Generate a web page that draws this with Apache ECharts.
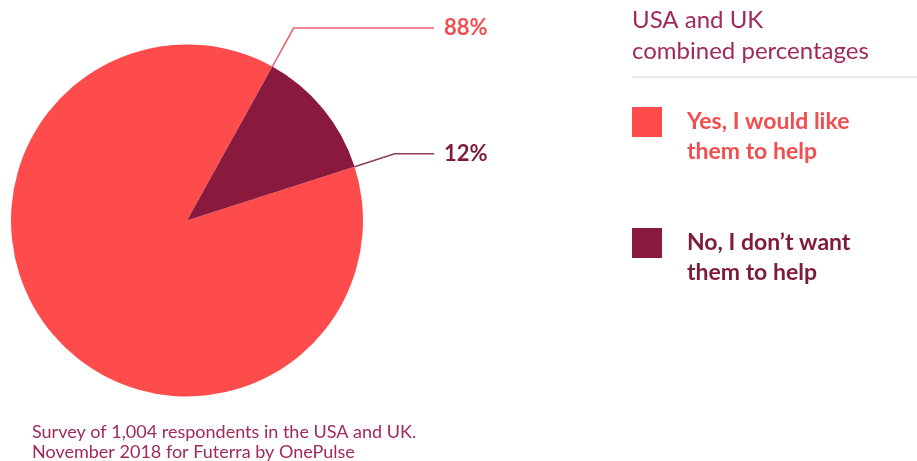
<!DOCTYPE html>
<html>
<head>
<meta charset="utf-8">
<script src="https://cdn.jsdelivr.net/npm/echarts@6/dist/echarts.min.js"></script>
<style>
  html, body { margin: 0; padding: 0; background: #ffffff; }
  #chart { width: 917px; height: 461px; }
</style>
</head>
<body>
<div id="chart"></div>
<script>
// Survey answers (percent of respondents)
const categories = ['Yes, I would like them to help', "No, I don\u2019t want them to help"];
const legendLines = [['Yes, I would like', 'them to help'], ["No, I don\u2019t want", 'them to help']];
const values = [88, 12];

const sliceColors = ['#fe4b4c', '#8a1a3d'];
const labelColors = ['#f24d4f', '#7e1a3c'];
const leaderColors = ['#e9606c', '#8d3b5e'];
const textColor = '#a02b57';

const center = [187, 220.5];
const radius = 176;
const startAngle = 17.8;
const legLength = [44, 42];
const lineEndX = 434;
const labelX = 444;

const total = values.reduce((a, b) => a + b, 0);

// Leader line starts at the trailing edge of each slice and runs outward
function leaderPoints(i) {
  let acc = 0;
  for (let k = 0; k <= i; k++) acc += values[k];
  const a = (startAngle - acc / total * 360) * Math.PI / 180;
  const dx = Math.cos(a), dy = -Math.sin(a);
  const p0 = [center[0] + radius * dx, center[1] + radius * dy];
  const p1 = [p0[0] + legLength[i] * dx, p0[1] + legLength[i] * dy];
  const p2 = [lineEndX, p1[1]];
  return [p0, p1, p2];
}

const chart = echarts.init(document.getElementById('chart'), null, { renderer: 'canvas' });

chart.setOption({
  backgroundColor: '#ffffff',
  animation: false,
  title: [
    {
      text: 'USA and UK\ncombined percentages',
      left: 632, top: 5, padding: 0,
      textStyle: { fontFamily: 'Lato', fontWeight: 'normal', fontSize: 24, lineHeight: 31, color: textColor }
    },
    {
      text: 'Survey of 1,004 respondents in the USA and UK.\nNovember 2018 for Futerra by OnePulse',
      left: 32, top: 422, padding: 0,
      textStyle: { fontFamily: 'Lato', fontWeight: 'normal', fontSize: 18, lineHeight: 20, color: textColor }
    }
  ],
  legend: {
    orient: 'vertical',
    left: 632, top: 107, padding: 0,
    itemWidth: 30, itemHeight: 60, itemGap: 61,
    icon: 'path://M0,0H30V30H0ZM0,60',
    selectedMode: false,
    formatter: name => legendLines[categories.indexOf(name)].join('\n'),
    textStyle: { fontFamily: 'Lato', fontWeight: 'bold', fontSize: 23, lineHeight: 30, padding: [0, 0, 0, 20] },
    data: categories.map((c, i) => ({ name: c, textStyle: { color: labelColors[i] } }))
  },
  graphic: [
    {
      type: 'line',
      shape: { x1: 632, y1: 77, x2: 917, y2: 77 },
      style: { stroke: '#e2e2e2', lineWidth: 1.5 }
    }
  ],
  series: [
    {
      type: 'pie',
      center: center,
      radius: radius,
      startAngle: startAngle,
      clockwise: true,
      silent: true,
      avoidLabelOverlap: false,
      itemStyle: { borderWidth: 0 },
      label: {
        show: true, position: 'outside', formatter: '{c}%',
        fontFamily: 'Lato', fontWeight: 'bold', fontSize: 22
      },
      labelLine: { show: true, length: 20, length2: 20, smooth: false, lineStyle: { width: 1.5 } },
      labelLayout: function (p) {
        const pts = leaderPoints(p.dataIndex);
        return {
          x: labelX, y: pts[1][1],
          align: 'left', verticalAlign: 'middle',
          labelLinePoints: pts
        };
      },
      data: categories.map((c, i) => ({
        name: c,
        value: values[i],
        itemStyle: { color: sliceColors[i] },
        label: { color: labelColors[i] },
        labelLine: { lineStyle: { color: leaderColors[i] } }
      }))
    }
  ]
});
</script>
</body>
</html>
